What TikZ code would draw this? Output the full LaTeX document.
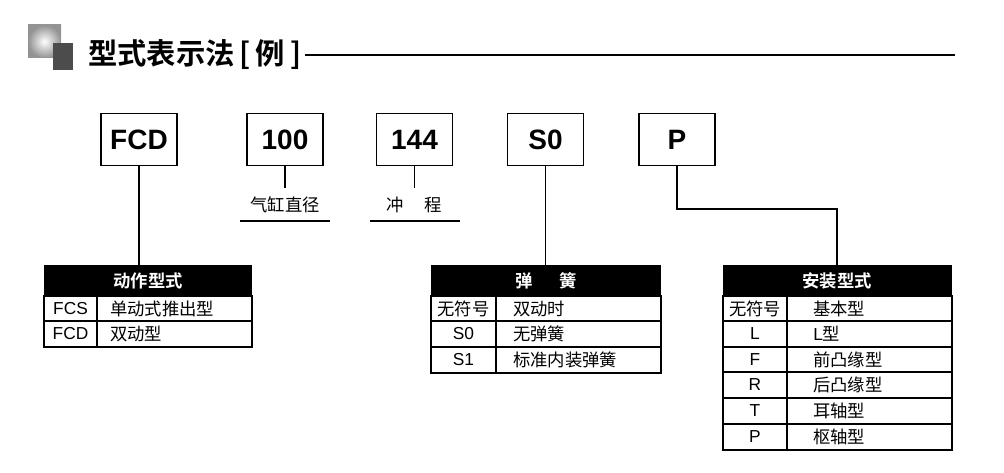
\documentclass[tikz,border=0pt]{standalone}
\usepackage{fontspec}
\setmainfont{Liberation Sans}
\newfontfamily\cjk{Noto Sans CJK SC}
\newfontfamily\cjkb{Noto Sans CJK SC Bold}
\begin{document}
\begin{tikzpicture}[x=0.75pt,y=-0.75pt,
  code/.style={draw,line width=1.2pt,minimum width=57pt,minimum height=39pt,font=\bfseries\fontsize{21}{21}\selectfont,inner sep=0},
  cell/.style={font=\cjk\fontsize{13}{13}\selectfont,inner sep=0},
  lat/.style={font=\fontsize{13}{13}\selectfont,inner sep=0},
  hd/.style={font=\cjkb\fontsize{13}{13}\selectfont,text=white,inner sep=0},
  ln/.style={line width=0.8pt}]
\useasboundingbox (0,0) rectangle (1004,473);
% title
\shade[inner color=white,outer color=gray!85] (28,25) rectangle (61,58);
\fill[black!70] (53,43) rectangle (73,70);
\node[font=\cjkb\fontsize{22}{22}\selectfont,anchor=west,inner sep=0] (title) at (88,55) {型式表示法\,[\,例\,]};
\coordinate (tend) at (955,55);
\draw[line width=0.8pt] (title.east) ++(3pt,0) -- (tend);
% code boxes
\node[code] (fcd) at (139,139.5) {FCD};
\node[code] (b100) at (285,139.5) {100};
\node[code] (b144) at (414.5,139.5) {144};
\node[code] (s0) at (545.5,139.5) {S0};
\node[code] (p) at (677,139.5) {P};
% labels
\node[cell] (l100) at (285,205) {气缸直径};
\node[cell] (l144) at (414.5,205) {冲\hspace{1.2em}程};
\draw[ln] (240,221) -- (330,221);
\draw[ln] (370,221) -- (460,221);
\draw[ln] (b100.south) -- (285,188);
\draw[ln] (b144.south) -- (414.5,188);
% table 1
\fill (44,265) rectangle (252,296);
\node[hd] (h1) at (148,281) {动作型式};
\draw[ln] (44,296) rectangle (252,347); \draw[ln] (44,321)--(252,321); \draw[ln] (97,296)--(97,347);
\node[lat] at (70.5,309) {FCS}; \node[cell,anchor=west] at (110,309) {单动式推出型};
\node[lat] at (70.5,334) {FCD}; \node[cell,anchor=west] at (110,334) {双动型};
\coordinate (t1) at (139,265);
\draw[ln] (fcd.south) -- (t1);
% table 2
\fill (431,265) rectangle (661,296);
\node[hd] (h2) at (546,281) {弹\hspace{1.5em}簧};
\draw[ln] (431,296) rectangle (661,373); \draw[ln] (431,321)--(661,321); \draw[ln] (431,347)--(661,347); \draw[ln] (496,296)--(496,373);
\node[cell] at (463.5,309) {无符号}; \node[cell,anchor=west] at (513,309) {双动时};
\node[lat] at (463.5,334) {S0}; \node[cell,anchor=west] at (513,334) {无弹簧};
\node[lat] at (463.5,360) {S1}; \node[cell,anchor=west] at (513,360) {标准内装弹簧};
\coordinate (t2) at (545.5,265);
\draw[ln] (s0.south) -- (t2);
% table 3
\fill (723,265) rectangle (952,296);
\node[hd] (h3) at (837,281) {安装型式};
\draw[ln] (723,296) rectangle (952,450);
\foreach \y in {321,347,372,398,424} \draw[ln] (723,\y)--(952,\y);
\draw[ln] (787,296)--(787,450);
\node[cell] at (755,309) {无符号}; \node[cell,anchor=west] at (813,309) {基本型};
\foreach \a/\b/\y in {L/{\fontspec{Liberation Sans}L}型/334, F/前凸缘型/360, R/后凸缘型/385, T/耳轴型/411, P/枢轴型/437}
  {\node[lat] at (755,\y) {\a}; \node[cell,anchor=west] at (813,\y) {\b};}
\coordinate (c1) at (677,209); \coordinate (c2) at (837,209); \coordinate (t3) at (837,265);
\draw[ln] (p.south) -- (c1) -- (c2) -- (t3);
\end{tikzpicture}
\end{document}
